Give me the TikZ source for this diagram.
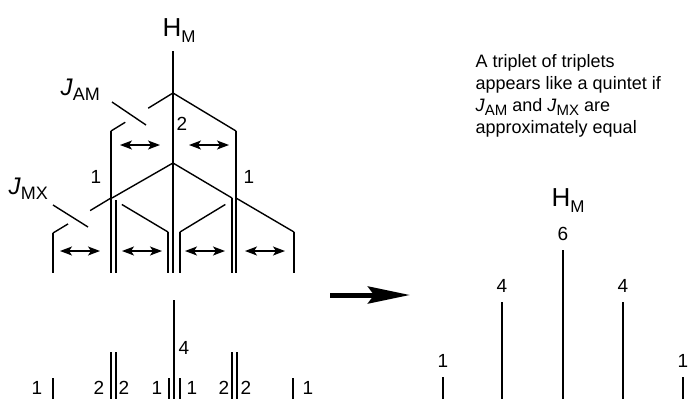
\documentclass[tikz,border=0pt]{standalone}
\usepackage{fontspec}
\setmainfont{Liberation Sans}
\usetikzlibrary{calc,arrows.meta}
\newcommand{\jsub}[2]{\textit{J}\raisebox{-0.22em}{\fontsize{#2}{#2}\selectfont #1}}

\begin{document}
\begin{tikzpicture}[x=1pt,y=-1pt,line width=1.4pt,
  lbl/.style={font=\fontsize{19}{19}\selectfont,inner sep=0pt},
  split/.style={{Stealth[length=12pt,width=9pt,inset=3pt]}-{Stealth[length=12pt,width=9pt,inset=3pt]},line width=1.3pt}]
\useasboundingbox (0,0) rectangle (699,399);
% splitting tree
\coordinate (base) at (0,273);
\coordinate (top) at (173,51);
\coordinate (am) at (173,93);
\coordinate (mx) at (173,163);
\coordinate (l1) at (111,131);
\coordinate (r1) at (236,131);
\coordinate (jl) at (111,198);
\coordinate (jr) at (236,198);
\coordinate (p1) at (53,233);
\coordinate (p3) at (116,200);
\coordinate (p4) at (168,232);
\coordinate (p6) at (180,232);
\coordinate (p7) at (232,198);
\coordinate (p9) at (294,232);
\foreach \p in {top,l1,r1,p1,p3,p4,p6,p7,p9} {\draw (\p) -- (\p |- base);}
\draw (am) -- ($(am)!.4!(l1)$) ($(am)!.77!(l1)$) -- (l1);
\draw (am) -- (r1);
\draw (mx) -- (112,198) (mx) -- (p7);
\draw (jl) -- ($(jl)!.36!(p1)$) ($(jl)!.74!(p1)$) -- (p1);
\draw ($(jl)!.19!(p4)$) -- (p4);
\draw ($(jr)!.19!(p6)$) -- (p6) (jr) -- (p9);
\foreach \a/\b/\y in {120/160/145,189/229/145,60/100/251,122/162/251,185/225/251,245/285/251} {\draw[split] (\a,\y) -- (\b,\y);}
\node[font=\fontsize{26}{26}\selectfont,anchor=base west,inner sep=0pt] (hm) at (162,36) {H\raisebox{-0.25em}{\fontsize{17}{17}\selectfont M}};
\node[font=\fontsize{24}{24}\selectfont,anchor=base west,inner sep=0pt] (jam) at (60,95) {\jsub{AM}{18}};
\node[font=\fontsize{24}{24}\selectfont,anchor=base west,inner sep=0pt] (jmx) at (8,194) {\jsub{MX}{18}};
\draw (112,102) -- (146,125);
\draw (53,205) -- (88,227);
\node[lbl] (n2) at (182,124) {2};
\node[lbl] (n1l) at (96,177) {1};
\node[lbl] (n1r) at (249,177) {1};
% resulting lines
\foreach \x/\h in {53/378,111/352,116/352,169/378,174/300,180/378,232/352,237/352,293/378} {\draw (\x,\h) -- (\x,399);}
\foreach \x/\t in {37/1,99/2,124/2,157/1,192/1,224/2,246/2,308/1} {\node[lbl] (b\x) at (\x,388) {\t};}
\node[lbl] (b4) at (184,348) {4};
% arrow and quintet
\draw[line width=5pt,-{Stealth[length=42pt,width=17pt,inset=6pt]}] (330,295) -- (410,295);
\node[font=\fontsize{18}{21.8}\selectfont,align=left,anchor=north west,inner sep=0pt] (note) at (475,54)
  {A triplet of triplets\\appears like a quintet if\\\jsub{AM}{15} and \jsub{MX}{15} are\\approximately equal};
\node[font=\fontsize{26}{26}\selectfont,anchor=base west,inner sep=0pt] (hq) at (551,206) {H\raisebox{-0.25em}{\fontsize{17}{17}\selectfont M}};
\foreach \x/\h/\t in {443/377/1,502/302/4,563/250/6,623/302/4,683/377/1} {
  \draw (\x,\h) -- (\x,399);
  \node[lbl] (q\x) at (\x,\h-16) {\t};
}
\end{tikzpicture}
\end{document}
